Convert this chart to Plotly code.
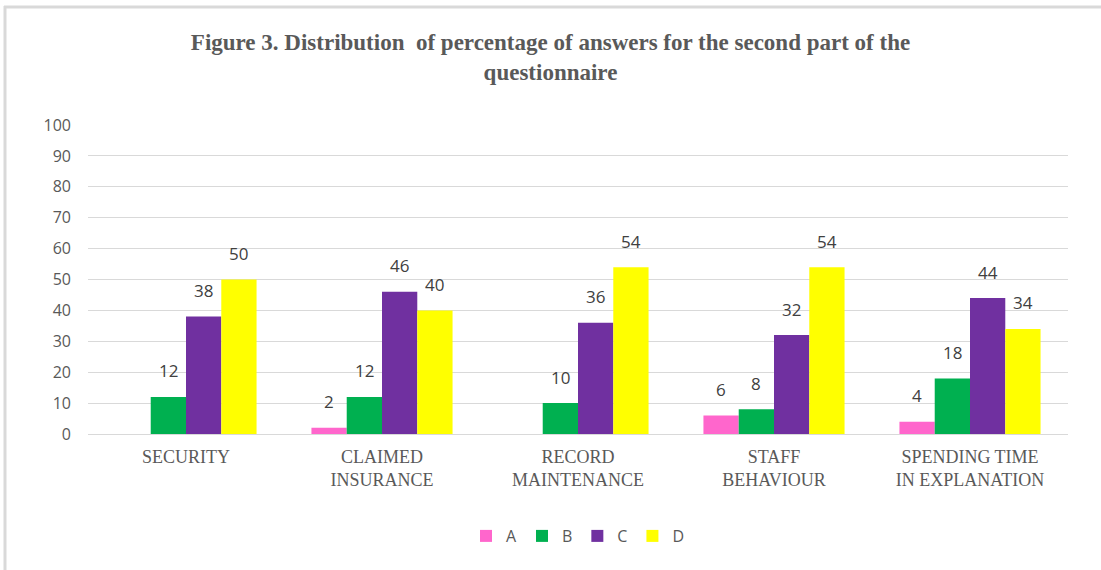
import plotly.graph_objects as go

categories = ["SECURITY", "CLAIMED<br>INSURANCE", "RECORD<br>MAINTENANCE", "STAFF<br>BEHAVIOUR", "SPENDING TIME<br>IN EXPLANATION"]
series_names = ["A", "B", "C", "D"]
values_A = [0, 2, 0, 6, 4]
values_B = [12, 12, 10, 8, 18]
values_C = [38, 46, 36, 32, 44]
values_D = [50, 40, 54, 54, 34]
colors = ["#ff66cc", "#00b050", "#7030a0", "#ffff00"]
y_ticks = [0, 10, 20, 30, 40, 50, 60, 70, 80, 90, 100]

W, H = 1101, 570
ml, mr, mt, mb = 88, 33, 125, 136
bargap = 0.28

fig = go.Figure()
all_vals = [values_A, values_B, values_C, values_D]
for name, vals, col in zip(series_names, all_vals, colors):
    fig.add_trace(go.Bar(
        name=name, x=categories, y=vals, marker=dict(color=col, line=dict(width=0)),
        hoverinfo="skip",
    ))

pw = W - ml - mr
ph = H - mt - mb
bar_px = pw / len(categories) * (1 - bargap) / len(series_names)
for i, vals in enumerate(all_vals):
    off = (i - (len(series_names) - 1) / 2) * bar_px
    for cat, v in zip(categories, vals):
        if v:
            fig.add_annotation(x=cat, y=v, text=str(v), showarrow=False, xshift=off, yshift=26,
                               font=dict(family="Open Sans, Calibri, sans-serif", size=17, color="#404040"))

fig.update_layout(
    width=W, height=H,
    margin=dict(l=ml, r=mr, t=mt, b=mb),
    paper_bgcolor="white", plot_bgcolor="white",
    barmode="group", bargap=bargap, bargroupgap=0,
    title=dict(text="<b>Figure 3. Distribution  of percentage of answers for the second part of the<br>questionnaire</b>",
               x=0.5, xanchor="center", y=1 - 50 / H, yanchor="middle",
               font=dict(family="Liberation Serif, Times New Roman, serif", size=23, color="#595959")),
    xaxis=dict(showline=True, linecolor="#d9d9d9", linewidth=1, ticks="", ticklabelstandoff=6,
               tickfont=dict(family="Liberation Serif, Times New Roman, serif", size=18, color="#595959")),
    yaxis=dict(range=[0, 100], tickvals=y_ticks, showgrid=True, gridcolor="#d9d9d9", gridwidth=1,
               zeroline=False, ticks="", ticklabelstandoff=16,
               tickfont=dict(family="Open Sans, Calibri, sans-serif", size=16, color="#595959")),
    legend=dict(orientation="h", x=0.5, xanchor="center", y=(H - mb - 536) / ph, yanchor="middle",
                font=dict(family="Open Sans, Calibri, sans-serif", size=16, color="#595959"),
                itemwidth=30, traceorder="normal"),
    showlegend=True,
)

def px(x): return (x - ml) / pw
def py(y): return (H - mb - y) / ph
fig.add_shape(type="line", xref="paper", yref="paper", x0=px(4), x1=px(1101), y0=py(7), y1=py(7),
              line=dict(color="#d9d9d9", width=3))
fig.add_shape(type="line", xref="paper", yref="paper", x0=px(5), x1=px(5), y0=py(6), y1=py(570),
              line=dict(color="#d9d9d9", width=3))

fig.write_html("out.html", config={"displayModeBar": False},
               post_script="document.body.style.margin='0';document.body.style.overflow='hidden';")
